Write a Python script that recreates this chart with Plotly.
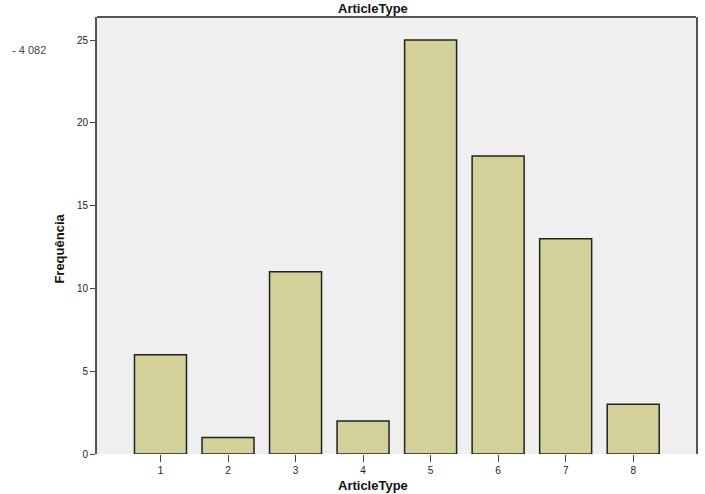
import plotly.graph_objects as go

categories = [1, 2, 3, 4, 5, 6, 7, 8]
tick_labels = ["1", "2", "3", "4", "5", "6", "7", "8"]
frequencies = [6, 1, 11, 2, 25, 18, 13, 3]
y_ticks = [0, 5, 10, 15, 20, 25]

fig = go.Figure()
fig.add_trace(go.Bar(
    x=categories, y=frequencies, width=0.77,
    marker=dict(color="#d3d09a", line=dict(color="#222222", width=1.5)),
    hoverinfo="x+y",
))

font = "Liberation Sans, Arial, sans-serif"
fig.update_layout(
    width=705, height=494,
    margin=dict(l=97, r=7, t=17, b=40),
    paper_bgcolor="white", plot_bgcolor="#efefef",
    showlegend=False,
    font=dict(family=font, size=10, color="#222"),
    xaxis=dict(range=[0.06, 8.93], tickmode="array", tickvals=categories, ticktext=tick_labels,
               showgrid=False, zeroline=False, showline=False,
               ticks="outside", ticklen=7, tickcolor="#444", tickwidth=1,
               tickfont=dict(size=10, family=font, color="#222")),
    yaxis=dict(range=[0, 26.39], tickmode="array", tickvals=y_ticks,
               showgrid=False, zeroline=False,
               showline=True, linecolor="#555", linewidth=2, mirror=True,
               ticks="outside", ticklen=5, tickcolor="#444", tickwidth=1,
               tickfont=dict(size=10, family=font, color="#222")),
    shapes=[dict(type="line", xref="paper", yref="paper", x0=0, x1=1, y0=1, y1=1,
                 line=dict(color="#555", width=2))],
    annotations=[
        dict(text="<b>ArticleType</b>", xref="paper", yref="paper", x=0.46, y=1, yshift=9,
             yanchor="middle", showarrow=False, font=dict(size=13, family=font, color="#111")),
        dict(text="<b>ArticleType</b>", xref="paper", yref="paper", x=0.46, y=0, yshift=-31,
             yanchor="middle", showarrow=False, font=dict(size=13, family=font, color="#111")),
        dict(text="<b>Frequência</b>", xref="paper", yref="paper", x=0, xshift=-37, y=0.47,
             xanchor="center", textangle=-90, showarrow=False,
             font=dict(size=13, family=font, color="#111")),
        dict(text="- 4 082", xref="paper", yref="paper", x=0, xshift=-68, y=0.925,
             xanchor="center", yanchor="middle", showarrow=False,
             font=dict(size=11, family=font, color="#444")),
    ],
)

fig.write_html("out.html")
